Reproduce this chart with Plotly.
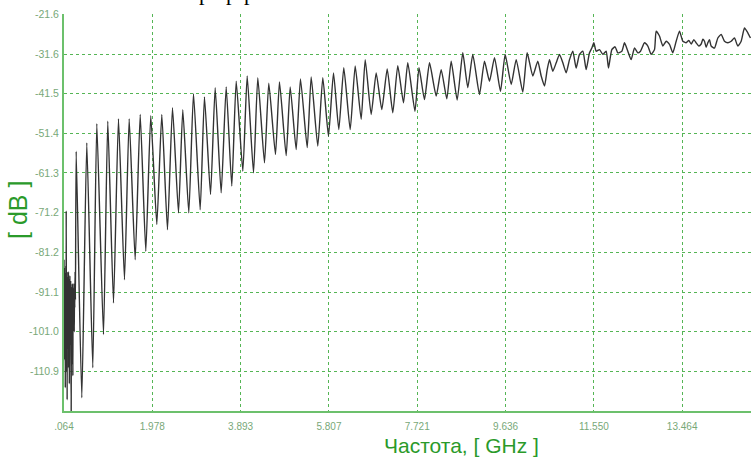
import plotly.graph_objects as go

# ---- data ----
noise_f = [0.064, 0.068, 0.072, 0.076, 0.080, 0.084, 0.088, 0.092, 0.096, 0.100,
           0.104, 0.108, 0.112, 0.116, 0.120, 0.124, 0.128, 0.132, 0.136, 0.140,
           0.144, 0.148, 0.152, 0.156, 0.160, 0.164, 0.168, 0.172, 0.176, 0.180,
           0.184, 0.188, 0.192, 0.196, 0.200, 0.204, 0.208, 0.214, 0.220, 0.224,
           0.228, 0.232, 0.236, 0.240, 0.244, 0.248, 0.252, 0.256, 0.260, 0.264,
           0.268, 0.274, 0.280, 0.286, 0.292, 0.298, 0.304, 0.312]
noise_db = [-83.0, -97.0, -85.0, -108.0, -87.0, -99.0, -86.5, -115.0, -89.0, -96.0,
            -84.5, -111.0, -70.8, -100.0, -88.0, -93.0, -86.0, -118.0, -90.0, -97.0,
            -87.5, -105.0, -91.0, -99.0, -86.0, -110.0, -89.0, -95.0, -88.0, -114.0,
            -91.0, -98.0, -87.0, -104.0, -92.0, -97.0, -88.5, -108.0, -120.8, -94.0,
            -90.0, -102.0, -93.0, -109.0, -89.0, -97.0, -95.0, -112.0, -92.0, -99.0,
            -90.0, -96.0, -89.0, -101.0, -92.0, -95.0, -86.0, -93.0]

peak_f = [0.328, 0.558, 0.775, 1.013, 1.245, 1.477, 1.716, 1.945, 2.184, 2.416,
          2.639, 2.871, 3.109, 3.341, 3.580, 3.797, 4.035, 4.265, 4.503, 4.735, 4.967,
          5.190, 5.422, 5.674, 5.906, 6.129, 6.376, 6.593, 6.831, 7.070, 7.299, 7.516, 7.759,
          7.987, 8.240, 8.457, 8.708, 8.925, 9.179, 9.396, 9.627, 9.866, 10.104, 10.334]
peak_db = [-55.9, -53.8, -49.0, -48.4, -47.8, -47.8, -46.7, -47.0, -46.7, -45.0,
           -45.5, -41.5, -42.3, -40.0, -39.8, -38.4, -37.1, -37.5, -38.9, -38.6, -39.8,
           -37.8, -37.3, -37.5, -36.3, -35.0, -34.6, -33.0, -36.3, -35.3, -34.5, -33.8, -35.0,
           -33.8, -35.5, -33.4, -31.3, -31.7, -33.4, -32.5, -31.7, -33.0, -31.3, -33.4]

trough_f = [0.450, 0.688, 0.920, 1.137, 1.375, 1.607, 1.837, 2.076, 2.307, 2.546,
            2.769, 3.016, 3.240, 3.471, 3.701, 3.940, 4.172, 4.410, 4.648, 4.880, 5.097,
            5.336, 5.565, 5.797, 6.021, 6.268, 6.506, 6.723, 6.953, 7.191, 7.423, 7.672,
            7.878, 8.132, 8.362, 8.587, 8.817, 9.070, 9.287, 9.526, 9.758, 10.009, 10.226]
trough_db = [-117.5, -110.0, -101.7, -93.8, -88.0, -83.0, -80.9, -74.2, -75.5, -71.3,
             -71.3, -70.5, -66.7, -66.3, -64.6, -60.9, -61.3, -58.8, -56.7, -57.0, -55.5,
             -55.0, -54.6, -52.1, -50.5, -50.5, -47.9, -46.7, -45.5, -46.3, -43.8, -45.9,
             -43.0, -42.1, -42.8, -43.1, -40.0, -41.7, -38.4, -40.9, -39.2, -41.1, -37.1]

tail_f = [10.408, 10.480, 10.538, 10.588, 10.660, 10.733, 10.805, 10.877, 10.949, 11.022,
          11.094, 11.166, 11.238, 11.311, 11.383, 11.455, 11.506, 11.549, 11.600, 11.672,
          11.744, 11.816, 11.867, 11.939, 12.011, 12.069, 12.156, 12.214, 12.286, 12.358,
          12.431, 12.503, 12.561, 12.647, 12.720, 12.792, 12.864, 12.900, 12.972, 13.045,
          13.117, 13.189, 13.261, 13.334, 13.406, 13.478, 13.550, 13.608, 13.659, 13.717,
          13.767, 13.825, 13.876, 13.912, 13.948, 13.984, 14.020, 14.056, 14.092, 14.165,
          14.237, 14.309, 14.381, 14.454, 14.526, 14.598, 14.670, 14.743, 14.815, 14.887, 14.945]
tail_db = [-37.1, -39.6, -35.5, -33.0, -35.9, -33.8, -31.7, -33.8, -36.3, -33.0,
           -30.9, -35.1, -31.7, -30.9, -35.5, -31.3, -30.1, -28.8, -30.9, -30.5,
           -31.7, -30.9, -35.1, -30.5, -29.8, -31.3, -30.9, -28.8, -30.9, -33.0,
           -30.1, -31.3, -30.9, -28.8, -29.6, -31.7, -30.5, -25.9, -27.1, -29.6,
           -28.4, -29.2, -31.3, -28.4, -25.9, -28.4, -28.8, -28.2, -29.1, -28.0,
           -28.8, -29.6, -29.1, -27.9, -28.4, -29.9, -28.8, -28.0, -29.6, -30.1,
           -27.6, -26.7, -28.4, -28.8, -28.4, -27.6, -29.6, -28.4, -25.1, -26.3, -27.6]

x_ticks = [0.064, 1.978, 3.893, 5.807, 7.721, 9.636, 11.550, 13.464]
x_labels = [".064", "1.978", "3.893", "5.807", "7.721", "9.636", "11.550", "13.464"]
y_ticks = [-21.6, -31.6, -41.5, -51.4, -61.3, -71.2, -81.2, -91.1, -101.0, -110.9]
y_labels = ["-21.6", "-31.6", "-41.5", "-51.4", "-61.3", "-71.2", "-81.2", "-91.1", "-101.0", "-110.9"]

# merge into one trace sorted by frequency
pts = list(zip(noise_f, noise_db)) + list(zip(peak_f, peak_db)) + \
      list(zip(trough_f, trough_db)) + list(zip(tail_f, tail_db))
pts.sort(key=lambda p: p[0])
freq = [p[0] for p in pts]
level = [p[1] for p in pts]

GRID = "#55b555"
AXIS = "#6cc06c"
LABEL = "#78a878"
TITLE = "#2a9a2a"

fig = go.Figure()
fig.add_trace(go.Scatter(x=freq, y=level, mode="lines",
                         line=dict(color="#333333", width=1.4, shape="spline", smoothing=0.5),
                         showlegend=False, hoverinfo="skip"))

fig.update_layout(
    width=751, height=457,
    margin=dict(l=64, r=0, t=14, b=46),
    paper_bgcolor="white", plot_bgcolor="white",
    font=dict(family="Liberation Sans, Arial, sans-serif"),
    xaxis=dict(range=[0.064, 14.956], tickvals=x_ticks, ticktext=x_labels,
               showgrid=True, gridcolor=GRID, griddash="dot", gridwidth=1,
               showline=True, linecolor=AXIS, linewidth=2, zeroline=False,
               ticks="", ticklabelstandoff=5, tickfont=dict(size=10, color=LABEL)),
    yaxis=dict(range=[-120.8, -21.6], tickvals=y_ticks, ticktext=y_labels,
               showgrid=True, gridcolor=GRID, griddash="dot", gridwidth=1,
               showline=True, linecolor=AXIS, linewidth=2, zeroline=False,
               ticks="", ticklabelstandoff=1, tickfont=dict(size=10.5, color=LABEL)),
    annotations=[
        dict(text="Частота, [ GHz ]", xref="paper", yref="paper",
             x=(461 - 64) / 687, y=-(445.5 - 411) / 397, xanchor="center", yanchor="middle",
             borderpad=0, showarrow=False, font=dict(size=21, color=TITLE)),
        dict(text="[ dB ]", xref="paper", yref="paper",
             x=-(64 - 18) / 687, y=(411 - 210) / 397, xanchor="center", yanchor="middle",
             textangle=-90, showarrow=False, font=dict(size=25, color=TITLE)),
    ],
)

# cropped title fragments visible at the very top of the picture
for px in [204, 231, 249]:
    fig.add_annotation(text="р", xref="paper", yref="paper",
                       x=(px - 64) / 687, y=1 + (14 - 7) / 397,
                       xanchor="center", yanchor="bottom", showarrow=False,
                       font=dict(size=22, color="black",
                                 family="Liberation Serif, Times New Roman, serif"))

fig.write_html("out.html")
